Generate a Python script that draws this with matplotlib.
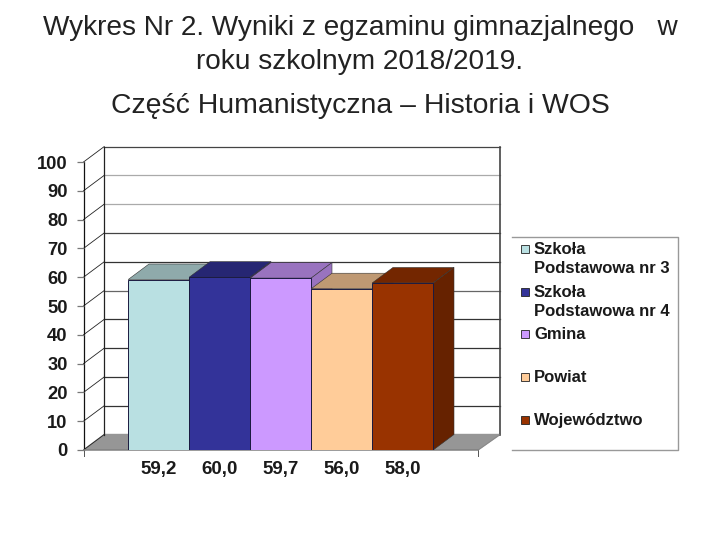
import matplotlib
matplotlib.use('Agg')
import matplotlib.pyplot as plt
from matplotlib.patches import Rectangle
from matplotlib.lines import Line2D

plt.rcParams['font.family'] = ['Liberation Sans', 'DejaVu Sans']

values = [59.2, 60.0, 59.7, 56.0, 58.0]
value_labels = ['59,2', '60,0', '59,7', '56,0', '58,0']
names = ['Szkoła\nPodstawowa nr 3', 'Szkoła\nPodstawowa nr 4', 'Gmina', 'Powiat', 'Województwo']
front_colors = ['#B9E0E2', '#333399', '#CC99FF', '#FFCC99', '#993300']
top_colors = ['#8FAAAB', '#262673', '#9973BF', '#BF9973', '#732600']
side_colors = ['#8FAAAB', '#262673', '#9973BF', '#BF9973', '#662200']
y_ticks = [0, 10, 20, 30, 40, 50, 60, 70, 80, 90, 100]
grid_colors = ['#333333', '#333333', '#333333', '#333333', '#333333', '#666666',
               '#333333', '#444444', '#aaaaaa', '#aaaaaa', '#444444']

W, H = 720.0, 540.0
fig = plt.figure(figsize=(7.2, 5.4), dpi=100)


def px(x, y, w, h):
    return [x / W, 1 - (y + h) / H, w / W, h / H]


# axes spans the front bottom left corner up to the back wall top right
ax = fig.add_axes(px(83.5, 146.5, 416.5, 303.5))
unit_x = 61.0
unit_y = 2.88
ax.set_xlim((83.5 - 158.7) / unit_x, (500 - 158.7) / unit_x)
ax.set_ylim(0, 303.5 / unit_y)
for s in ax.spines.values():
    s.set_visible(False)

dx = 20.8 / unit_x
dy = 15.5 / unit_y
x0, x1 = ax.get_xlim()
front_right = (478 - 158.7) / unit_x
back_left = x0 + dx

# floor
ax.fill([x0, back_left, x1, front_right], [0, dy, dy, 0], color='#969696', zorder=1)

# walls and grid
for t, c in zip(y_ticks, grid_colors):
    if t > 0:
        ax.plot([back_left, x1], [t + dy, t + dy], color=c, lw=0.9, zorder=1, clip_on=False)
    ax.plot([x0, back_left], [t, t + dy], color='#222222', lw=0.6, zorder=1, clip_on=False)
ax.plot([back_left, back_left], [dy, 100 + dy], color='#222222', lw=0.9, zorder=1)
ax.plot([x1, x1], [dy, 100 + dy], color='#444444', lw=1.2, zorder=1, clip_on=False)
ax.plot([x0, x0], [0, 100], color='#111111', lw=0.9, zorder=1, clip_on=False)
ax.plot([x0, front_right], [0, 0], color='#808080', lw=1.1, zorder=2, clip_on=False)
ax.plot([front_right, x1], [0, dy], color='#888888', lw=0.6, zorder=1)
for xe in [x0, front_right]:
    ax.plot([xe, xe], [0, -2], color='#555555', lw=0.7, zorder=1, clip_on=False)

# bars, front face plus top and side
for i, v in enumerate(values):
    z = 3 + i
    left, right = i - 0.5, i + 0.5
    ax.bar(i, v, width=1.0, color=front_colors[i], edgecolor='#1a1a40', lw=0.7, zorder=z + 0.2)
    ax.fill([left, left + dx, right + dx, right], [v, v + dy, v + dy, v],
            facecolor=top_colors[i], edgecolor='#333333', lw=0.4, zorder=z)
    ax.fill([right, right + dx, right + dx, right], [0, dy, v + dy, v],
            facecolor=side_colors[i], edgecolor='#333333', lw=0.4, zorder=z)

ax.set_xticks(range(len(values)))
ax.set_xticklabels(value_labels, fontsize=13.5, fontweight='bold', color='#1a1a1a')
ax.tick_params(axis='x', length=0, pad=8)
ax.set_yticks(y_ticks)
ax.set_yticklabels([str(t) for t in y_ticks], fontsize=13.2, fontweight='bold', color='#1a1a1a')
ax.tick_params(axis='y', length=5, width=0.9, color='#777777', pad=6.5)

# titles
fig.text(360 / W, 1 - 28 / H, 'Wykres Nr 2. Wyniki z egzaminu gimnazjalnego   w',
         ha='center', va='center', fontsize=20.2, color='#222222')
fig.text(360 / W, 1 - 62 / H, 'roku szkolnym 2018/2019.',
         ha='center', va='center', fontsize=20.2, color='#222222')
fig.text(360 / W, 1 - 106 / H, 'Część Humanistyczna – Historia i WOS',
         ha='center', va='center', fontsize=20.4, color='#222222')

# legend, open on its left side
lx0, lx1, ly0, ly1 = 512 / W, 677.5 / W, 1 - 450 / H, 1 - 237 / H
fig.add_artist(Line2D([lx0, lx1, lx1, lx0], [ly1, ly1, ly0, ly0], color='#999999', lw=1.0))
entry_y = [249, 292, 334, 377, 420]
for name, c, py in zip(names, front_colors, entry_y):
    fig.add_artist(Rectangle((521 / W, 1 - (py + 4) / H), 8 / W, 8 / H, transform=fig.transFigure,
                             facecolor=c, edgecolor='#222222', lw=0.6))
    fig.text(534 / W, 1 - (py - 7) / H, name, ha='left', va='top', fontsize=12,
             fontweight='bold', color='#1a1a1a', linespacing=1.35)

fig.savefig('out.png', dpi=100)
